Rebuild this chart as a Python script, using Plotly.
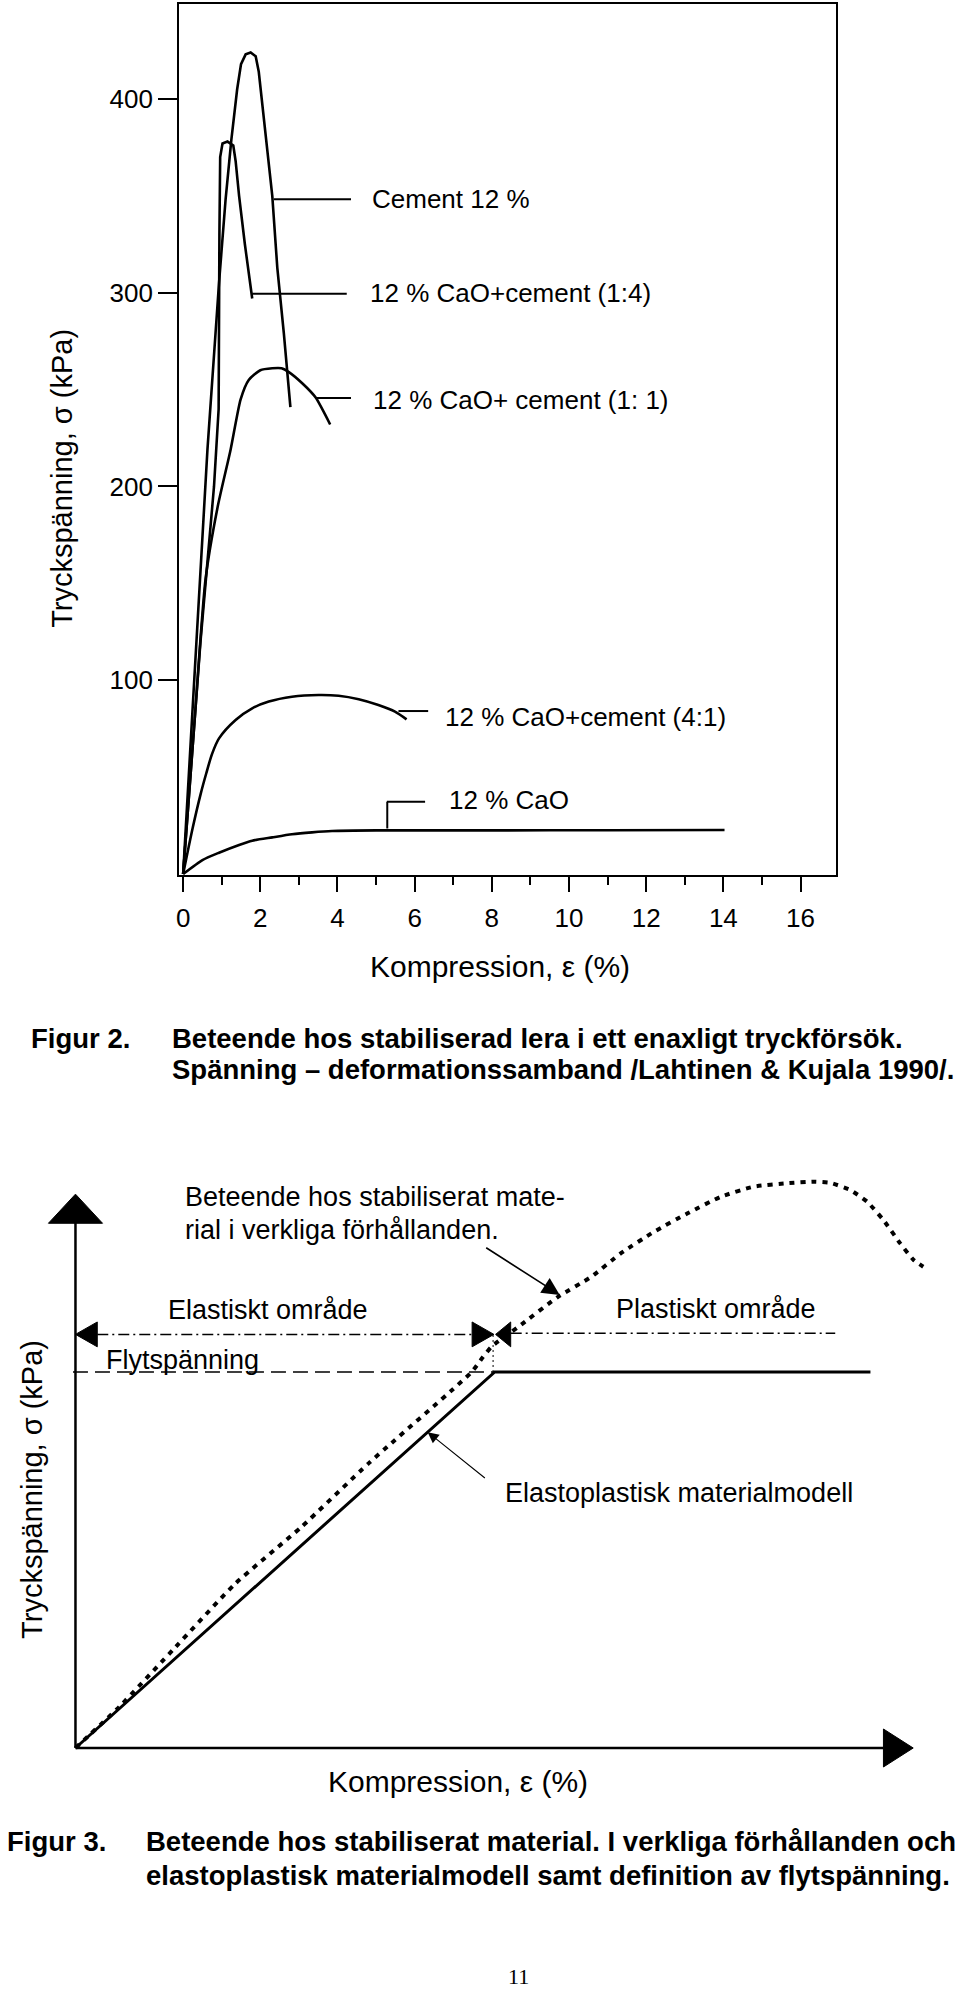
import plotly.graph_objects as go

# ---------------- data: Figur 2 (stress-strain curves) ----------------
cement_x = [0, 0.3, 0.63, 0.93, 1.10, 1.25, 1.40, 1.50, 1.62, 1.75, 1.88, 1.96, 2.05, 2.13, 2.31, 2.44, 2.61, 2.78]
cement_y = [0, 105, 219, 305, 348, 379, 405, 418, 423, 424, 422, 414, 398, 382, 350, 313, 279, 241]

c14_x = [0, 0.45, 0.80, 0.92, 0.94, 0.96, 1.02, 1.15, 1.30, 1.36, 1.45, 1.60, 1.79]
c14_y = [0, 120, 200, 240, 330, 370, 377, 378, 376, 368, 350, 325, 297]

c11_x = [0, 0.3, 0.58, 0.9, 1.23, 1.49, 1.7, 2.0, 2.31, 2.55, 2.74, 3.1, 3.43, 3.81]
c11_y = [0, 80, 152, 190, 219, 245, 255, 260, 261, 261, 259, 253, 246, 232]

c41_x = [0, 0.25, 0.45, 0.6, 0.75, 0.93, 1.36, 1.79, 2.22, 2.82, 3.51, 4.03, 4.55, 5.06, 5.49, 5.79]
c41_y = [0, 24, 41, 52, 62, 70, 79.5, 85.5, 89, 91.5, 92.4, 92, 90.2, 87.2, 83.8, 79.8]

cao_x = [0, 0.5, 0.93, 1.45, 1.79, 2.31, 2.82, 3.34, 3.86, 5, 8, 11, 14.03]
cao_y = [0, 7.2, 11, 15, 17.2, 18.9, 20.5, 21.5, 22.2, 22.5, 22.5, 22.6, 22.7]

series_labels = ["Cement 12 %", "12 % CaO+cement (1:4)", "12 % CaO+ cement (1: 1)",
                 "12 % CaO+cement (4:1)", "12 % CaO"]

x_ticks = [0, 2, 4, 6, 8, 10, 12, 14, 16]
y_ticks = [100, 200, 300, 400]

# ---------------- data: Figur 3 (schematic) ----------------
ep_x = [0, 10, 18.96]
ep_y = [0, 10, 10]

real_x = [0, 1.05, 2.39, 3.82, 5.40, 6.99, 9.45, 9.70, 9.92, 10.56, 11.51, 12.30, 13.01, 13.80,
          14.60, 15.39, 16.18, 16.98, 17.61, 18.00, 18.48, 18.88, 19.27, 19.67, 19.99, 20.22]
real_y = [0, 1.10, 2.69, 4.38, 5.89, 7.57, 10.0, 10.37, 10.67, 11.20, 12.00, 12.53, 13.16, 13.73,
          14.22, 14.66, 14.93, 15.02, 15.06, 15.03, 14.84, 14.53, 14.04, 13.42, 12.98, 12.80]

W, H = 960, 1989
FONT = "Liberation Sans"


def px(x):
    return x / W


def py(y):
    return 1 - y / H


fig = go.Figure()

line_style = dict(color="black", width=2.6)
fig.add_trace(go.Scatter(x=cement_x, y=cement_y, mode="lines", line=line_style, name=series_labels[0]))
fig.add_trace(go.Scatter(x=c14_x, y=c14_y, mode="lines", line=line_style, name=series_labels[1]))
fig.add_trace(go.Scatter(x=c11_x, y=c11_y, mode="lines", line=dict(color="black", width=2.6, shape="spline", smoothing=0.6), name=series_labels[2]))
fig.add_trace(go.Scatter(x=c41_x, y=c41_y, mode="lines", line=dict(color="black", width=2.6, shape="spline", smoothing=0.8), name=series_labels[3]))
fig.add_trace(go.Scatter(x=cao_x, y=cao_y, mode="lines", line=dict(color="black", width=2.6, shape="spline", smoothing=0.6), name=series_labels[4]))

# bottom schematic
fig.add_trace(go.Scatter(x=real_x, y=real_y, mode="lines", xaxis="x2", yaxis="y2",
                         line=dict(color="black", width=4, dash="5px,6px", shape="spline", smoothing=0.5),
                         name="Beteende"))
fig.add_trace(go.Scatter(x=ep_x, y=ep_y, mode="lines", xaxis="x2", yaxis="y2",
                         line=dict(color="black", width=3), name="Elastoplastisk"))

shapes = []
annotations = []

# ---- Figur 2 leader lines (data coords) ----
leaders = [
    ((2.35, 348.2), (4.35, 348.2)),
    ((1.79, 299.4), (4.24, 299.4)),
    ((3.42, 245.7), (4.35, 245.7)),
    ((5.58, 84.1), (6.35, 84.1)),
    ((5.28, 37.3), (6.27, 37.3)),
    ((5.29, 37.3), (5.29, 23.5)),
]
for (x0, y0), (x1, y1) in leaders:
    shapes.append(dict(type="line", xref="x", yref="y", x0=x0, y0=y0, x1=x1, y1=y1,
                       line=dict(color="black", width=2)))

label_pos = [(4.85, 348.4), (4.80, 299.7), (4.87, 244.6), (6.74, 81.2), (6.83, 38.2)]
for txt, (lx, ly) in zip(series_labels, label_pos):
    annotations.append(dict(xref="x", yref="y", x=lx, y=ly, text=txt, showarrow=False,
                            xanchor="left", yanchor="middle",
                            font=dict(family=FONT, size=26, color="black")))

# axis titles Figur 2
annotations.append(dict(xref="paper", yref="paper", x=px(59), y=py(478), text="Tryckspänning, σ (kPa)",
                        textangle=-90, showarrow=False, xanchor="center", yanchor="middle",
                        font=dict(family=FONT, size=29, color="black")))
annotations.append(dict(xref="paper", yref="paper", x=px(499), y=py(966), text="Kompression, ε (%)",
                        showarrow=False, xanchor="center", yanchor="middle",
                        font=dict(family=FONT, size=30, color="black")))

# captions Figur 2
bold = dict(family=FONT, size=27.5, color="black")
annotations += [
    dict(xref="paper", yref="paper", x=px(26), y=py(1038), text="<b>Figur 2.</b>", showarrow=False,
         xanchor="left", yanchor="middle", font=bold),
    dict(xref="paper", yref="paper", x=px(168), y=py(1038),
         text="<b>Beteende hos stabiliserad lera i ett enaxligt tryckförsök.</b>", showarrow=False,
         xanchor="left", yanchor="middle", font=bold),
    dict(xref="paper", yref="paper", x=px(168), y=py(1069),
         text="<b>Spänning – deformationssamband /Lahtinen &amp; Kujala 1990/.</b>", showarrow=False,
         xanchor="left", yanchor="middle", font=bold),
]

# ---- Figur 3 axes (arrows) ----
shapes.append(dict(type="line", xref="x2", yref="y2", x0=0, y0=0, x1=0, y1=13.96,
                   line=dict(color="black", width=2.5)))
shapes.append(dict(type="line", xref="x2", yref="y2", x0=0, y0=0, x1=19.27, y1=0,
                   line=dict(color="black", width=2.5)))


def tri(a, b, c):
    return f"M {a[0]},{a[1]} L {b[0]},{b[1]} L {c[0]},{c[1]} Z"


for path in [
    tri((-0.645, 13.955), (0.645, 13.955), (0, 14.73)),      # y arrow
    tri((19.27, -0.505), (19.27, 0.505), (19.98, 0)),         # x arrow
    tri((0.0, 11.0), (0.52, 10.67), (0.52, 11.33)),           # left range arrow
    tri((9.98, 11.0), (9.46, 10.67), (9.46, 11.33)),          # elastic right end
    tri((10.02, 11.0), (10.38, 10.67), (10.38, 11.33)),       # plastic left end
]:
    shapes.append(dict(type="path", xref="x2", yref="y2", path=path,
                       fillcolor="black", line=dict(color="black", width=1)))

# dash-dot range lines
shapes.append(dict(type="line", xref="x2", yref="y2", x0=0.52, y0=11.0, x1=9.46, y1=11.0,
                   line=dict(color="black", width=1.5, dash="11px,4px,2px,4px")))
shapes.append(dict(type="line", xref="x2", yref="y2", x0=10.38, y0=11.03, x1=18.12, y1=11.03,
                   line=dict(color="black", width=1.5, dash="11px,4px,2px,4px")))
# yield stress dashed line
shapes.append(dict(type="line", xref="x2", yref="y2", x0=-0.06, y0=10, x1=10, y1=10,
                   line=dict(color="black", width=1.5, dash="15px,7px")))
# knee vertical dotted
shapes.append(dict(type="line", xref="x2", yref="y2", x0=9.96, y0=10, x1=9.96, y1=11,
                   line=dict(color="black", width=1, dash="2px,3px")))

reg = dict(family=FONT, size=27, color="black")
annotations += [
    dict(xref="x2", yref="y2", x=2.555, y=14.66, text="Beteende hos stabiliserat mate-",
         showarrow=False, xanchor="left", yanchor="middle", font=reg),
    dict(xref="x2", yref="y2", x=2.555, y=13.78, text="rial i verkliga förhållanden.",
         showarrow=False, xanchor="left", yanchor="middle", font=reg),
    dict(xref="x2", yref="y2", x=2.154, y=11.65, text="Elastiskt område",
         showarrow=False, xanchor="left", yanchor="middle", font=reg),
    dict(xref="x2", yref="y2", x=12.84, y=11.67, text="Plastiskt område",
         showarrow=False, xanchor="left", yanchor="middle", font=reg),
    dict(xref="x2", yref="y2", x=0.69, y=10.32, text="Flytspänning",
         showarrow=False, xanchor="left", yanchor="middle", font=reg),
    dict(xref="x2", yref="y2", x=10.2, y=6.77, text="Elastoplastisk materialmodell",
         showarrow=False, xanchor="left", yanchor="middle", font=reg),
    # pointer arrows
    dict(xref="x2", yref="y2", axref="x2", ayref="y2", x=11.55, y=12.05, ax=9.76, ay=13.33,
         text="", showarrow=True, arrowhead=2, arrowsize=2.2, arrowwidth=1.6, arrowcolor="black"),
    dict(xref="x2", yref="y2", axref="x2", ayref="y2", x=8.4, y=8.4, ax=9.8, ay=7.15,
         text="", showarrow=True, arrowhead=2, arrowsize=2.0, arrowwidth=1.1, arrowcolor="black"),
    # axis titles
    dict(xref="paper", yref="paper", x=px(29), y=py(1489), text="Tryckspänning, σ (kPa)",
         textangle=-90, showarrow=False, xanchor="center", yanchor="middle",
         font=dict(family=FONT, size=29, color="black")),
    dict(xref="paper", yref="paper", x=px(456), y=py(1781), text="Kompression, ε (%)",
         showarrow=False, xanchor="center", yanchor="middle",
         font=dict(family=FONT, size=30, color="black")),
    # captions
    dict(xref="paper", yref="paper", x=px(2), y=py(1841), text="<b>Figur 3.</b>", showarrow=False,
         xanchor="left", yanchor="middle", font=bold),
    dict(xref="paper", yref="paper", x=px(141), y=py(1841),
         text="<b>Beteende hos stabiliserat material. I verkliga förhållanden och</b>", showarrow=False,
         xanchor="left", yanchor="middle", font=bold),
    dict(xref="paper", yref="paper", x=px(141), y=py(1875),
         text="<b>elastoplastisk materialmodell samt definition av flytspänning.</b>", showarrow=False,
         xanchor="left", yanchor="middle", font=bold),
    dict(xref="paper", yref="paper", x=px(517), y=py(1976), text="11", showarrow=False,
         xanchor="center", yanchor="middle",
         font=dict(family="Liberation Serif", size=22, color="black")),
]

axis_common = dict(showgrid=False, zeroline=False, showline=True, mirror=True,
                   linecolor="black", linewidth=2, ticks="outside", tickcolor="black",
                   tickwidth=2, tickfont=dict(family=FONT, size=26, color="black"))

fig.update_layout(
    width=W, height=H,
    margin=dict(l=0, r=0, t=0, b=0),
    paper_bgcolor="white", plot_bgcolor="white",
    showlegend=False,
    xaxis=dict(domain=[px(176.7), px(835.7)], range=[-0.1033, 16.921], anchor="y",
               tickmode="array", tickvals=x_ticks, ticklen=15, ticklabelstandoff=4,
               minor=dict(dtick=1, tick0=0, ticklen=8, tickwidth=2, ticks="outside", tickcolor="black"),
               **axis_common),
    yaxis=dict(domain=[py(875), py(4)], range=[-0.516, 449.0], anchor="x",
               tickmode="array", tickvals=y_ticks, ticklen=19, **axis_common),
    xaxis2=dict(domain=[0, 1], range=[-1.7285, 21.096], anchor="y2", visible=False),
    yaxis2=dict(domain=[py(1800), py(1150)], range=[-1.383, 15.904], anchor="x2", visible=False),
    shapes=shapes,
    annotations=annotations,
)

fig.write_html("out.html", config={"displayModeBar": False},
               post_script="document.body.style.margin='0';document.body.style.overflow='hidden';")
